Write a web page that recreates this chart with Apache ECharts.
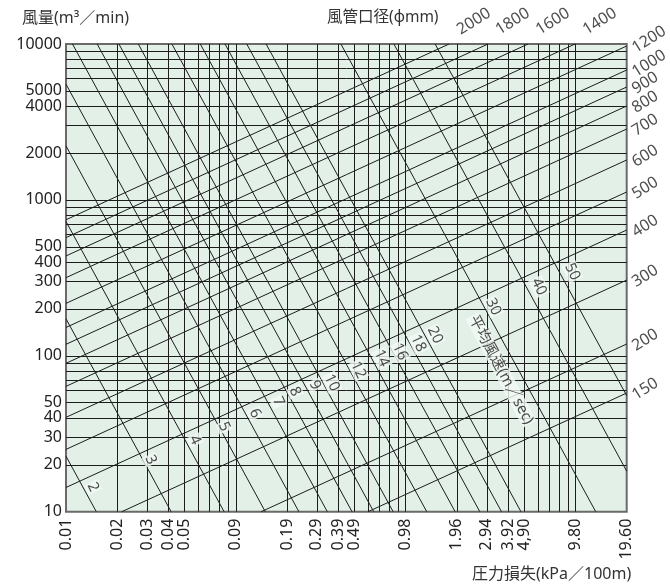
<!DOCTYPE html>
<html><head><meta charset="utf-8">
<script src="https://cdn.jsdelivr.net/npm/echarts@6/dist/echarts.min.js"></script>
<style>html,body{margin:0;padding:0;background:#fff}#c{width:670px;height:586px}</style>
</head><body><div id="c"></div>
<script>
// x unit: 1 = 0.0098 kPa/100m  (labels show kPa/100m)
const xTicks = [1,2,3,4,5,10,20,30,40,50,100,200,300,400,500,1000,2000];
const xTickLabels = ['0.01','0.02','0.03','0.04','0.05','0.09','0.19','0.29','0.39','0.49','0.98','1.96','2.94','3.92','4,90','9.80','19.60'];
const yTicks = [10,20,30,40,50,100,200,300,400,500,1000,2000,4000,5000,10000];
const xGridValues = [2,3,4,5,6,7,8,9,10,20,30,40,50,60,70,80,90,100,200,300,400,500,600,700,800,900,1000];
const yGridValues = [20,30,40,50,60,70,80,90,100,200,300,400,500,600,700,800,900,1000,2000,3000,4000,5000,6000,7000,8000,9000];

const diameters = [2000,1800,1600,1400,1200,1000,900,800,700,600,500,400,300,200,150];
const diamFrom = [[1,746],[1,573],[1,437],[1,317],[1,217],[1,152],[1,118.5],[1,89.5],[1,63.7],[1,40.3],[1,25.1],[1,14.3],[2.13,10],[14.1,10],[60,10]];
const diamTo = [[180,10000],[305,10000],[525,10000],[993,10000],[2000,9710],[2000,6812],[2000,5298],[2000,4002],[2000,2849],[2000,1803],[2000,1124],[2000,641],[2000,306],[2000,119],[2000,57.7]];

const velocities = [2,3,4,5,6,7,8,9,10,12,14,16,18,20,30,40,50];
const velFrom = [[1,22.7],[1,172.7],[1,726.8],[1,2220],[1,5524],[1.092,10000],[1.526,10000],[2.049,10000],[2.665,10000],[4.203,10000],[6.177,10000],[8.633,10000],[11.59,10000],[15.07,10000],[41.54,10000],[85.2,10000],[149.0,10000]];
const velTo = [[1.508,10],[4.158,10],[8.527,10],[14.91,10],[23.5,10],[34.55,10],[48.3,10],[64.8,10],[84.3,10],[133.0,10],[195.4,10],[273.1,10],[366.4,10],[476.9,10],[1314,10],[2000,18.2],[2000,55.5]];
const velLabelPos = [[1.442,14.4],[3.152,21.5],[5.75,28.8],[8.55,35.1],[12.97,42.8],[17.8,50.8],[22.3,58.9],[29.2,65.0],[36.7,67.2],[52.6,81.1],[72.2,96.4],[92.6,106.2],[118.7,120.3],[148.8,136],[328,206.5],[609,277.5],[957,346.3]];
const velTitle = '平均風速(m／sec)';
const velTitlePos = [364, 81.1];

const FONT = "'Noto Sans', 'Noto Sans CJK JP', sans-serif";
const LINE = '#1c1c1c';

const chart = echarts.init(document.getElementById('c'));
function idxOf(arr, v){ let b=0, bd=Infinity; arr.forEach((t,i)=>{const d=Math.abs(Math.log(t)-Math.log(v)); if(d<bd){bd=d;b=i;}}); return b; }
const tStyle = (fs)=>({fontSize:fs, fontWeight:'normal', color:'#333', fontFamily:FONT});

const option = {
  animation: false,
  title: [
    {text:'風量(m³／min)', left:22, top:10, padding:0, textStyle:tStyle(16)},
    {text:'風管口径(ϕmm)', left:327, top:10, padding:0, textStyle:tStyle(15.5)},
    {text:'圧力損失(kPa／100m)', left:472, top:566, padding:0, textStyle:tStyle(16)}
  ],
  grid: {left:66, top:44, width:560.7, height:467.7, show:true, backgroundColor:'#e2f0e7', borderColor:'#6a6a6a', borderWidth:2},
  xAxis: {type:'log', logBase:10, min:1, max:2000,
    axisLine:{show:false}, axisTick:{show:false}, splitLine:{show:false}, minorSplitLine:{show:false},
    axisLabel:{customValues:xTicks, rotate:90, fontSize:16, color:'#222', margin:7, fontFamily:FONT,
      formatter:v=>xTickLabels[idxOf(xTicks,v)]}},
  yAxis: {type:'log', logBase:10, min:10, max:10000,
    axisLine:{show:false}, axisTick:{show:false}, splitLine:{show:false},
    axisLabel:{customValues:yTicks, fontSize:16, color:'#222', margin:4, fontFamily:FONT,
      formatter:v=>String(yTicks[idxOf(yTicks,v)])}},
  series: [
    {type:'lines', coordinateSystem:'cartesian2d', silent:true, z:2,
     lineStyle:{color:LINE, width:1, opacity:1},
     data: xGridValues.map(x=>({coords:[[x,10],[x,10000]]}))},
    {type:'lines', coordinateSystem:'cartesian2d', silent:true, z:2,
     lineStyle:{color:LINE, width:1, opacity:1},
     data: yGridValues.map(y=>({coords:[[1,y],[2000,y]]}))},
    {type:'lines', coordinateSystem:'cartesian2d', silent:true, z:3,
     lineStyle:{color:LINE, width:1, opacity:1},
     data: diameters.map((d,i)=>({name:String(d), coords:[diamFrom[i], diamTo[i]]}))},
    {type:'lines', coordinateSystem:'cartesian2d', silent:true, z:3,
     lineStyle:{color:LINE, width:1, opacity:1},
     data: velocities.map((v,i)=>({name:String(v), coords:[velFrom[i], velTo[i]]}))},
    {type:'scatter', silent:true, z:5, symbolSize:1, itemStyle:{color:'transparent'},
     data: diameters.slice(0,4).map((d,i)=>({name:String(d), value:diamTo[i]})),
     label:{show:true, position:'inside', formatter:p=>p.name, rotate:32, align:'left', verticalAlign:'middle',
       offset:[14.6,-6], fontSize:16, color:'#222', fontFamily:FONT}},
    {type:'scatter', silent:true, z:5, symbolSize:1, itemStyle:{color:'transparent'},
     data: diameters.slice(4).map((d,i)=>({name:String(d), value:diamTo[i+4]})),
     label:{show:true, position:'inside', formatter:p=>p.name, rotate:32, align:'left', verticalAlign:'middle',
       offset:[4,6.4], fontSize:16, color:'#222', fontFamily:FONT}},
    {type:'scatter', silent:true, z:6, symbolSize:1, itemStyle:{color:'transparent'},
     data: velocities.map((v,i)=>({name:String(v), value:velLabelPos[i]})),
     label:{show:true, position:'inside', formatter:p=>p.name, rotate:-65, align:'center', verticalAlign:'middle',
       fontSize:15, color:'#222', fontFamily:FONT, backgroundColor:'#f4faf6', padding:[0,1]}},
    {type:'scatter', silent:true, z:6, symbolSize:1, itemStyle:{color:'transparent'},
     data: [{name:velTitle, value:velTitlePos}],
     label:{show:true, position:'inside', formatter:p=>p.name, rotate:-62, align:'center', verticalAlign:'middle',
       fontSize:15, color:'#222', fontFamily:FONT, backgroundColor:'#f4faf6', padding:[0,1]}}
  ]
};
chart.setOption(option);
</script></body></html>
